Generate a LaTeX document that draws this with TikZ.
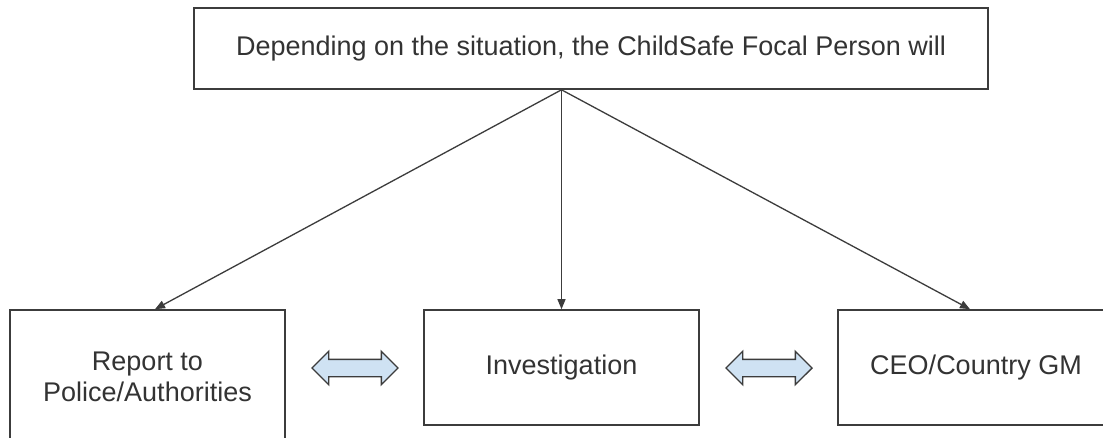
\documentclass[tikz,border=0pt]{standalone}
\usepackage{fontspec}
\setmainfont{Liberation Sans}
\usepackage{tikz}
\usetikzlibrary{arrows.meta, shapes.arrows}
\definecolor{linegray}{RGB}{60,60,60}
\definecolor{textgray}{RGB}{51,51,51}
\definecolor{arrowblue}{RGB}{207,226,243}

\begin{document}
\begin{tikzpicture}[x=1pt, y=-1pt,
  box/.style={draw=linegray, line width=1.6pt, fill=white, text=textgray, align=center,
    font=\fontsize{27}{31}\selectfont, inner sep=0pt},
  link/.style={draw=linegray, line width=1.3pt, -{Triangle[length=10pt,width=8pt]}},
  swap/.style={double arrow, draw=linegray, line width=1.4pt, fill=arrowblue,
    inner xsep=0pt, inner ysep=8pt, double arrow head extend=8pt, minimum height=86pt}]
\clip (0,0) rectangle (1103,438);
\fill[white] (0,0) rectangle (1103,438);
\node[box, minimum width=794pt, minimum height=81pt] (top) at (591,48.5)
  {Depending on the situation, the ChildSafe Focal Person will};
\node[box, minimum width=275pt, minimum height=134pt] (police) at (147.5,377)
  {Report to\\Police/Authorities};
\node[box, minimum width=275pt, minimum height=115pt] (invest) at (561.5,367.5)
  {Investigation};
\node[box, minimum width=276pt, minimum height=115pt] (ceo) at (976,367.5)
  {CEO/Country GM};
\coordinate (src) at (top.south -| invest.north);
\draw[link] (src) -- ([xshift=7.5pt]police.north);
\draw[link] (src) -- (invest.north);
\draw[link] (src) -- ([xshift=-6pt]ceo.north);
\node[swap] (swapleft) at (355,368) {};
\node[swap] (swapright) at (769,368) {};
\end{tikzpicture}
\end{document}
